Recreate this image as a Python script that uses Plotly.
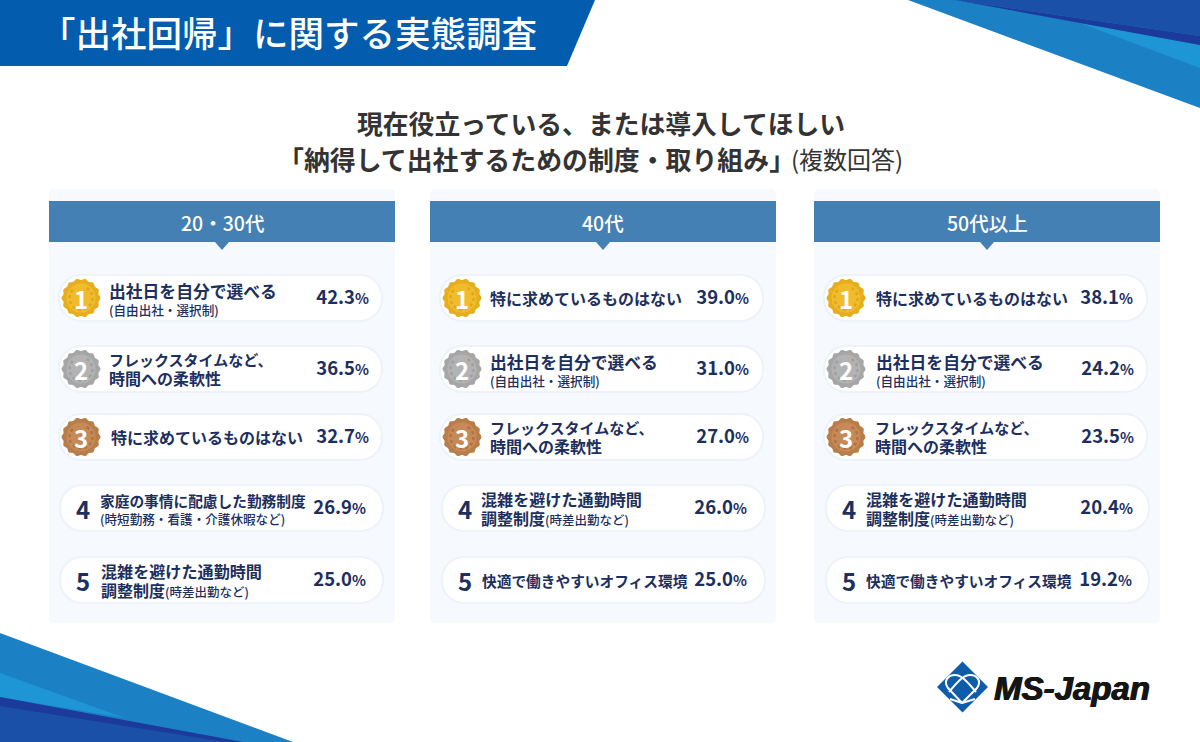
import numpy as np
import plotly.graph_objects as go

WIDTH = 1200
HEIGHT = 742
FONT = "Noto Sans CJK JP"
NAVY = "#1c2f5e"

page_title = "「出社回帰」に関する実態調査"
subtitle_1 = "現在役立っている、または導入してほしい"
subtitle_2 = "「納得して出社するための制度・取り組み」"
subtitle_note = "(複数回答)"
logo_text = "MS-Japan"

panel_titles = ["20・30代", "40代", "50代以上"]

# braces mark the smaller note text
flex_day = "出社日を自分で選べる<br>{(自由出社・選択制)}"
flex_time = "フレックスタイムなど、<br>時間への柔軟性"
nothing = "特に求めているものはない"
family = "家庭の事情に配慮した勤務制度<br>{(時短勤務・看護・介護休暇など)}"
commute = "混雑を避けた通勤時間<br>調整制度{(時差出勤など)}"
office = "快適で働きやすいオフィス環境"

labels_2030 = [flex_day, flex_time, nothing, family, commute]
labels_40 = [nothing, flex_day, flex_time, commute, office]
labels_50 = [nothing, flex_day, flex_time, commute, office]

values_2030 = [42.3, 36.5, 32.7, 26.9, 25.0]
values_40 = [39.0, 31.0, 27.0, 26.0, 25.0]
values_50 = [38.1, 24.2, 23.5, 20.4, 19.2]

ranks = [1, 2, 3, 4, 5]

all_labels = [labels_2030, labels_40, labels_50]
all_values = [values_2030, values_40, values_50]

# layout in page pixels
panel_left = [49, 430, 814]
panel_width = 346
row_top = [275, 346, 414, 485, 557]
row_height = 46
pill_left = [[59, 59, 59, 60, 60], [440, 440, 440, 442, 442], [824, 824, 824, 826, 826]]
pill_width = 323
text_left = [[107, 107, 109, 98, 99], [488, 488, 488, 479, 480], [874, 874, 873, 864, 864]]
value_right = [[369, 369, 369, 366, 366], [749, 749, 749, 747, 747], [1133, 1134, 1134, 1133, 1132]]
medal_colors = [("#e6ae1e", "#f1bc2b", "#dba71d"),
                ("#a6a6a6", "#b3b3b3", "#9f9f9f"),
                ("#b97d4a", "#c58a58", "#ad7443")]

fig = go.Figure()
shapes = []
annotations = []


def polygon(points, color):
    path = "M " + " L ".join(f"{x},{y}" for x, y in points) + " Z"
    shapes.append(dict(type="path", path=path, fillcolor=color, line_width=0, layer="below"))


def rounded(x0, y0, x1, y1, r, fill, line=None, line_width=0):
    k = r * 0.45
    path = (f"M {x0+r},{y0} L {x1-r},{y0} C {x1-k},{y0} {x1},{y0+k} {x1},{y0+r} "
            f"L {x1},{y1-r} C {x1},{y1-k} {x1-k},{y1} {x1-r},{y1} "
            f"L {x0+r},{y1} C {x0+k},{y1} {x0},{y1-k} {x0},{y1-r} "
            f"L {x0},{y0+r} C {x0},{y0+k} {x0+k},{y0} {x0+r},{y0} Z")
    shapes.append(dict(type="path", path=path, fillcolor=fill, layer="below",
                       line=dict(color=line or fill, width=line_width)))


def text(x, y, s, size, color=NAVY, anchor="left", weight=700, family=FONT, shadow=None):
    font = dict(family=family, size=size, color=color, weight=weight)
    if shadow:
        font["shadow"] = shadow
    annotations.append(dict(x=x, y=y, text=s, showarrow=False, xanchor=anchor, yanchor="middle",
                            xref="x", yref="y", align=anchor, font=font))


def medal(cx, cy, colors):
    # scalloped edge, drawn as decoration
    a = np.linspace(0, 2 * np.pi, 145)
    r = 18.7 + 0.8 * np.cos(14 * a)
    pts = list(zip(np.round(cx + r * np.cos(a), 1), np.round(cy + r * np.sin(a), 1)))
    polygon(pts[:-1], colors[0])
    shapes.append(dict(type="circle", x0=cx - 14.5, x1=cx + 14.5, y0=cy - 14.5, y1=cy + 14.5,
                       fillcolor=colors[1], line_width=0, layer="below"))
    a = np.radians(np.linspace(-60, 240, 40))
    arc = "M " + " L ".join(f"{cx + 11.5 * np.cos(t):.1f},{cy + 11.5 * np.sin(t):.1f}" for t in a)
    shapes.append(dict(type="path", path=arc, layer="below",
                       line=dict(color=colors[2], width=2.5, dash="dot")))


def line_size(line):
    n = len(line.split("{")[0])
    if n == 10:
        return 16.8 if "自分" in line else 16.1
    return {15: 13.7, 14: 14.7, 11: 15}.get(n, 16)


def styled(line):
    # one output line: main part bold, braces part small
    size = line_size(line)
    main, _, note = line.partition("{")
    parts = ""
    if main:
        parts += f"<span style='font-size:{size}px;font-weight:700'>{main}</span>"
    if note:
        note_size = 12.6 if not main else 12.5
        parts += f"<span style='font-size:{note_size}px;font-weight:500'>{note.rstrip('}')}</span>"
    return parts


def label_block(label, x, cy):
    lines = label.split("<br>")
    if len(lines) == 1:
        text(x, cy, styled(lines[0]), line_size(lines[0]))
    elif lines[1].startswith("{"):
        # main line over a small note, tighter leading
        text(x, cy + 1, "<br>".join(styled(s) for s in lines), 13)
    else:
        text(x, cy + 0.5, "<br>".join(styled(s) for s in lines), 14.6)


# corner decoration
polygon([(908, 0), (1200, 0), (1200, 108)], "#1c80c4")
polygon([(1080, 23), (1200, 45), (1200, 68)], "#1e96d6")
polygon([(955, 0), (1200, 36), (1200, 45)], "#1b3a9c")
polygon([(955, 0), (1200, 0), (1200, 36)], "#1a50a8")

polygon([(0, 633), (293, 742), (0, 742)], "#1c80c4")
polygon([(0, 673), (125, 718), (0, 697)], "#1e96d6")
polygon([(0, 697), (243, 742), (0, 742)], "#1b3a9c")
polygon([(0, 706), (225, 742), (0, 742)], "#1a50a8")

# title banner
polygon([(0, 0), (595, 0), (567, 66), (0, 66)], "#035cae")
text(38, 31, page_title, 35.5, color="white", weight=500)

text(601, 122, subtitle_1, 25.8, color="#333333", anchor="center", weight=600)
text(276, 158, subtitle_2, 25.9, color="#333333", weight=600)
text(789, 158, subtitle_note, 24, color="#333333", weight=400)

for c in range(3):
    left = panel_left[c]
    rounded(left, 189, left + panel_width, 623, 5, "#f6f9fe")
    polygon([(left, 201), (left + panel_width, 201), (left + panel_width, 242), (left, 242)], "#4580b5")
    mid = left + panel_width / 2
    polygon([(mid - 7, 242), (mid + 7, 242), (mid, 250)], "#4580b5")
    text(mid, 222, panel_titles[c], 19.5, color="white", anchor="center", weight=500)

    centers = [t + row_height / 2 for t in row_top]
    for r in range(5):
        x0 = pill_left[c][r]
        rounded(x0, row_top[r], x0 + pill_width, row_top[r] + row_height, 22, "white", "#eef2f9", 2)
        label_block(all_labels[c][r], text_left[c][r], centers[r])
        if ranks[r] <= 3:
            medal(x0 + 22, centers[r], medal_colors[r])
            text(x0 + 22, centers[r], str(ranks[r]), 24, color="white", anchor="center", weight=700)
        else:
            text(x0 + 22.5, centers[r], str(ranks[r]), 24, anchor="center")

    fig.add_trace(go.Scatter(
        x=value_right[c], y=[y + 1 for y in centers], mode="text", textposition="middle left",
        text=[f"{v:.1f}<span style='font-size:14.5px'>%</span>" for v in all_values[c]],
        textfont=dict(family=FONT, size=18.5, color=NAVY, weight=700),
        hoverinfo="skip", showlegend=False, cliponaxis=False,
    ))

# logo
polygon([(962.5, 661.5), (988, 687), (962.5, 712.5), (937, 687)], "#0f5cab")
for path in ["M 950,699 L 962,703 L 948,688 C 943,681 948,675 955,675 C 961,675 966,680 976,692",
             "M 975,699 L 962,703 L 977,688 C 982,681 977,675 970,675 C 964,675 959,680 949,692"]:
    shapes.append(dict(type="path", path=path, layer="below", line=dict(color="white", width=2)))
text(992, 688, f"<i>{logo_text}</i>", 33, color="#151515", weight=700, family="Liberation Sans",
     shadow="0.7px 0 0 #151515, -0.4px 0 0 #151515")

fig.update_layout(
    width=WIDTH, height=HEIGHT, margin=dict(l=0, r=0, t=0, b=0),
    paper_bgcolor="white", plot_bgcolor="white", showlegend=False,
    xaxis=dict(range=[0, WIDTH], visible=False, fixedrange=True),
    yaxis=dict(range=[HEIGHT, 0], visible=False, fixedrange=True),
    shapes=shapes, annotations=annotations,
)

fig.write_html("out.html", config=dict(displayModeBar=False),
               post_script="document.body.style.margin='0';")
